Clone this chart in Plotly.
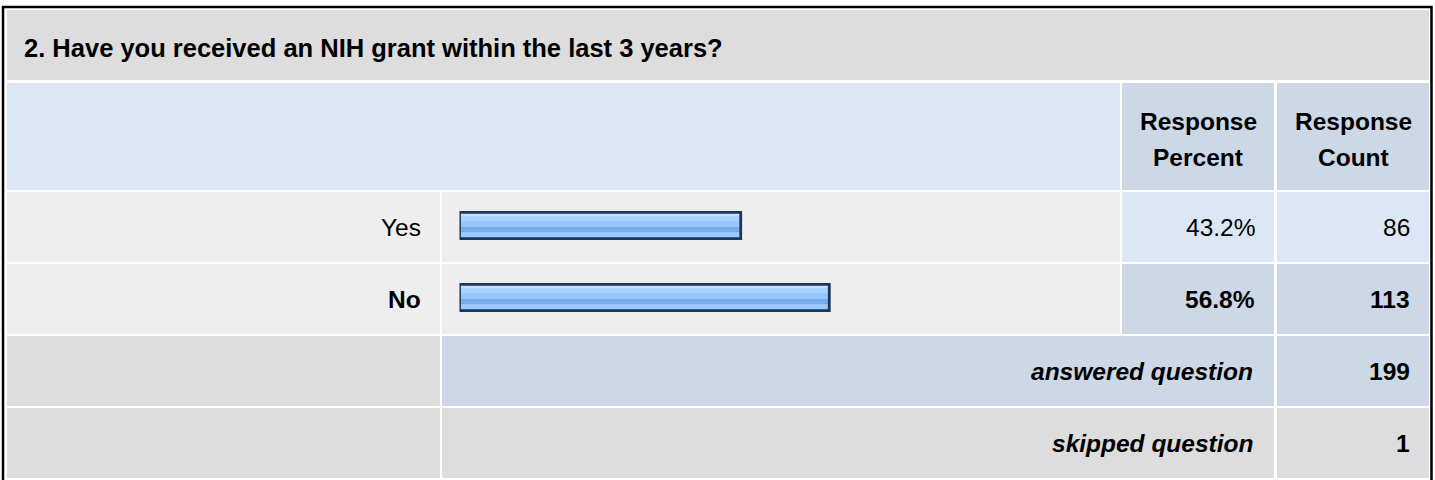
import plotly.graph_objects as go

# ---------------- data ----------------
question = "2. Have you received an NIH grant within the last 3 years?"
answer_labels = ["Yes", "No"]
response_percent = [43.2, 56.8]
response_count = [86, 113]
header_percent = ["Response", "Percent"]
header_count = ["Response", "Count"]
summary_labels = ["answered question", "skipped question"]
summary_counts = [199, 1]

# ---------------- geometry (pixels) ----------------
W, H = 1435, 480
FONT = "Liberation Sans, Arial, Helvetica, sans-serif"


def px(x):
    return x / W


def py(y):
    return 1 - y / H


shapes = []


def cell(x0, y0, x1, y1, color):
    shapes.append(dict(type="rect", xref="paper", yref="paper",
                       x0=px(x0), x1=px(x1), y0=py(y1), y1=py(y0),
                       fillcolor=color, line=dict(width=0), layer="below"))


GRAY = "#DDDDDD"
LIGHT = "#EEEEEE"
BLUE1 = "#DCE7F5"
BLUE2 = "#CCD8E6"

cols = [(7, 440), (442, 1120), (1122, 1274), (1277, 1429)]
rows = {"title": (10, 80), "head": (83, 190), "r0": (192, 262), "r1": (264, 334),
        "ans": (336, 406), "skip": (408, 478)}

# title row
cell(7, 10, 1429, 80, GRAY)
# header
cell(7, 83, 1120, 190, BLUE1)
cell(cols[2][0], 83, cols[2][1], 190, BLUE2)
cell(cols[3][0], 83, cols[3][1], 190, BLUE2)
# answer rows
max_i = response_percent.index(max(response_percent))
for i, key in enumerate(["r0", "r1"]):
    y0, y1 = rows[key]
    c = BLUE2 if i == max_i else BLUE1
    cell(cols[0][0], y0, cols[0][1], y1, LIGHT)
    cell(cols[1][0], y0, cols[1][1], y1, LIGHT)
    cell(cols[2][0], y0, cols[2][1], y1, c)
    cell(cols[3][0], y0, cols[3][1], y1, c)
# answered row
y0, y1 = rows["ans"]
cell(cols[0][0], y0, cols[0][1], y1, GRAY)
cell(cols[1][0], y0, cols[2][1], y1, BLUE2)
cell(cols[3][0], y0, cols[3][1], y1, BLUE2)
# skipped row
y0, y1 = rows["skip"]
cell(cols[0][0], y0, cols[0][1], y1, GRAY)
cell(cols[1][0], y0, cols[2][1], y1, GRAY)
cell(cols[3][0], y0, cols[3][1], y1, GRAY)
# outer black frame
shapes.append(dict(type="rect", xref="paper", yref="paper",
                   x0=px(3), x1=px(1431.5), y0=py(495), y1=py(7),
                   fillcolor="rgba(0,0,0,0)", line=dict(color="#000000", width=2.5),
                   layer="above"))

annotations = []


def text(x, y, s, anchor="left", size=24, bold=False, italic=False):
    t = s
    if italic:
        t = "<i>" + t + "</i>"
    if bold:
        t = "<b>" + t + "</b>"
    annotations.append(dict(xref="paper", yref="paper", x=px(x), y=py(y), text=t,
                            showarrow=False, xanchor=anchor, yanchor="middle",
                            font=dict(family=FONT, size=size, color="#000000")))


text(22, 47.5, question, "left", 25.5, bold=True)
text(1198, 121, header_percent[0], "center", 24.5, bold=True)
text(1198, 158, header_percent[1], "center", 24.5, bold=True)
text(1353, 121, header_count[0], "center", 24.5, bold=True)
text(1353, 158, header_count[1], "center", 24.5, bold=True)

for i, key in enumerate(["r0", "r1"]):
    y0, y1 = rows[key]
    yc = (y0 + y1) / 2 + 0.5
    b = i == max_i
    sz = 24.5 if b else 24.5
    text(423, yc, answer_labels[i], "right", sz, bold=b)
    text(1257, yc, f"{response_percent[i]:.1f}%", "right", sz, bold=b)
    text(1412, yc, str(response_count[i]), "right", sz, bold=b)

for key, lab, cnt in zip(["ans", "skip"], summary_labels, summary_counts):
    y0, y1 = rows[key]
    yc = (y0 + y1) / 2 + 0.5
    text(1255, yc, lab, "right", 24.5, bold=True, italic=True)
    text(1412, yc, str(cnt), "right", 24.5, bold=True)

# ---------------- bars ----------------
ROW_PX = 72.0  # pixel distance between category centres
stripes = [  # (from px, to px within a 29px-high bar, colour)
    (0, 5, "#C6E2FF"),
    (5, 10, "#A8D2FF"),
    (10, 15.5, "#96C8FC"),
    (15.5, 21, "#74ACEC"),
    (21, 29, "#9ACAFB"),
]
fig = go.Figure()
for p0, p1, col in stripes:
    fig.add_trace(go.Bar(x=response_percent, y=answer_labels, orientation="h",
                         offset=(p0 - 14.5) / ROW_PX, width=(p1 - p0) / ROW_PX,
                         marker=dict(color=col, line=dict(width=0)),
                         hoverinfo="skip", showlegend=False))
fig.add_trace(go.Bar(x=response_percent, y=answer_labels, orientation="h",
                     offset=-13.2 / ROW_PX, width=26.4 / ROW_PX,
                     marker=dict(color="rgba(0,0,0,0)", line=dict(color="#1C355A", width=2.8)),
                     hoverinfo="skip", showlegend=False))

bar_left, bar_full = 459.5, 651
cat_top, cat_bottom = 225.5 - ROW_PX / 2, 297.5 + ROW_PX / 2

fig.update_layout(
    width=W, height=H, margin=dict(l=0, r=0, t=0, b=0),
    paper_bgcolor="#FFFFFF", plot_bgcolor="rgba(0,0,0,0)",
    barmode="overlay", showlegend=False,
    shapes=shapes, annotations=annotations,
    xaxis=dict(domain=[px(bar_left), px(bar_left + bar_full)], range=[0, 100],
               visible=False, fixedrange=True),
    yaxis=dict(domain=[py(cat_bottom), py(cat_top)], type="category",
               categoryorder="array", categoryarray=answer_labels,
               range=[1.5, -0.5], visible=False, fixedrange=True),
)

fig.write_html("out.html", config={"displayModeBar": False},
               post_script="document.body.style.margin='0';document.body.style.overflow='hidden';")
